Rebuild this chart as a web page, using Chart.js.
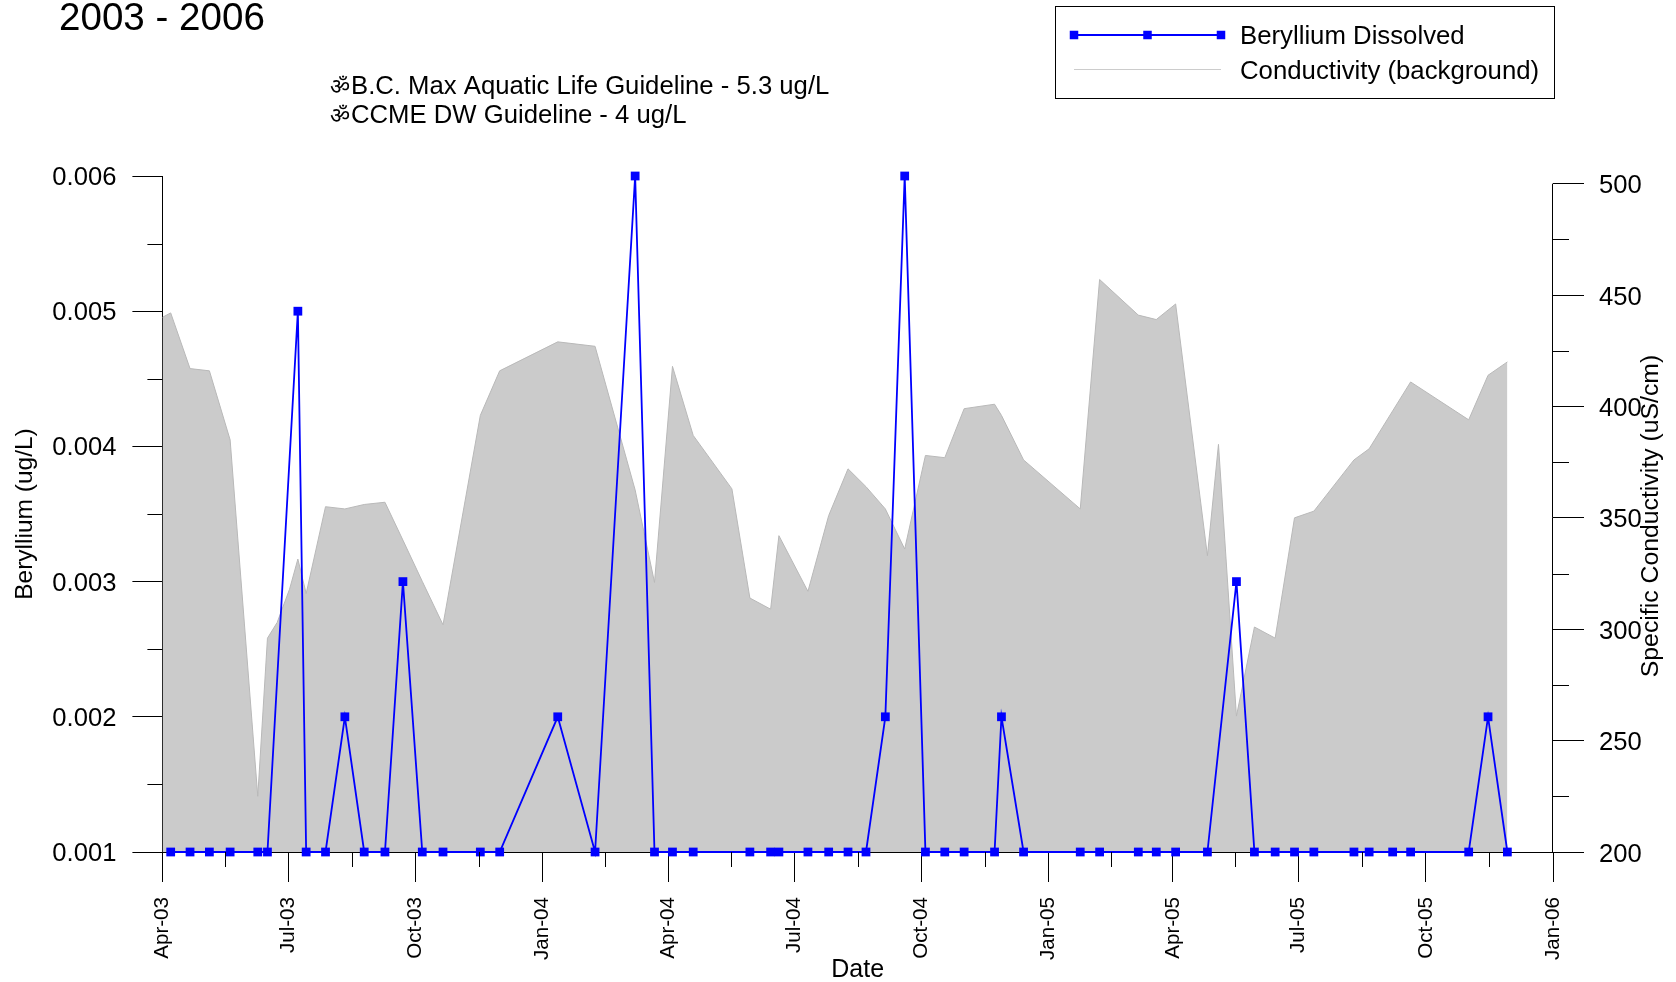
<!DOCTYPE html>
<html>
<head>
<meta charset="utf-8">
<style>html,body{margin:0;padding:0;background:#fff}canvas{display:block}</style>
<script src="https://cdn.jsdelivr.net/npm/chart.js@4/dist/chart.umd.min.js"></script>
</head>
<body>
<canvas id="c" width="1676" height="982"></canvas>
<script>
const berylliumDates = ["2003-04-07","2003-04-21","2003-05-05","2003-05-20","2003-06-09","2003-06-16","2003-07-08","2003-07-14","2003-07-28","2003-08-11","2003-08-25","2003-09-09","2003-09-22","2003-10-06","2003-10-21","2003-11-17","2003-12-01","2004-01-12","2004-02-08","2004-03-08","2004-03-22","2004-04-04","2004-04-19","2004-05-30","2004-06-14","2004-06-20","2004-07-11","2004-07-26","2004-08-09","2004-08-22","2004-09-05","2004-09-19","2004-10-04","2004-10-18","2004-11-01","2004-11-23","2004-11-28","2004-12-14","2005-01-24","2005-02-07","2005-03-07","2005-03-20","2005-04-03","2005-04-26","2005-05-17","2005-05-30","2005-06-14","2005-06-28","2005-07-12","2005-08-10","2005-08-21","2005-09-07","2005-09-20","2005-11-01","2005-11-15","2005-11-29"];
const berylliumValues = [0.001,0.001,0.001,0.001,0.001,0.001,0.005,0.001,0.001,0.002,0.001,0.001,0.003,0.001,0.001,0.001,0.001,0.002,0.001,0.006,0.001,0.001,0.001,0.001,0.001,0.001,0.001,0.001,0.001,0.001,0.002,0.006,0.001,0.001,0.001,0.001,0.002,0.001,0.001,0.001,0.001,0.001,0.001,0.001,0.003,0.001,0.001,0.001,0.001,0.001,0.001,0.001,0.001,0.001,0.002,0.001];
const conductivityDates = ["2003-04-01","2003-04-07","2003-04-21","2003-05-05","2003-05-20","2003-06-09","2003-06-16","2003-06-23","2003-07-02","2003-07-08","2003-07-14","2003-07-28","2003-08-11","2003-08-25","2003-09-09","2003-09-22","2003-10-06","2003-10-21","2003-11-17","2003-12-01","2004-01-12","2004-02-08","2004-03-08","2004-03-22","2004-04-04","2004-04-19","2004-05-17","2004-05-30","2004-06-14","2004-06-20","2004-07-11","2004-07-26","2004-08-09","2004-08-22","2004-09-05","2004-09-19","2004-10-04","2004-10-18","2004-11-01","2004-11-23","2004-11-28","2004-12-14","2005-01-24","2005-02-07","2005-03-07","2005-03-20","2005-04-03","2005-04-26","2005-05-04","2005-05-17","2005-05-30","2005-06-14","2005-06-28","2005-07-12","2005-08-10","2005-08-21","2005-09-07","2005-09-20","2005-11-01","2005-11-15","2005-11-29"];
const conductivityValues = [440,442,417,416,385,225,296,303,318,331.5,316,355,354,356,357,340,321.5,302,396,416,429,427,362.5,321,418,387,363,314,309,342,317,351,372,364,354,336,378,377,399,401,396,376,354,457,441,439,446,333,383,261,301,296,350,353,376,381,398,411,394,414,420];
const xMajorDates = ["2003-04-01","2003-07-01","2003-10-01","2004-01-01","2004-04-01","2004-07-01","2004-10-01","2005-01-01","2005-04-01","2005-07-01","2005-10-01","2006-01-01"];
const xMajorLabels = ["Apr-03","Jul-03","Oct-03","Jan-04","Apr-04","Jul-04","Oct-04","Jan-05","Apr-05","Jul-05","Oct-05","Jan-06"];
const xMinorDates = ["2003-05-16","2003-08-16","2003-11-16","2004-02-15","2004-05-16","2004-08-16","2004-11-16","2005-02-15","2005-05-16","2005-08-16","2005-11-16"];
const leftMajorTicks = [0.001,0.002,0.003,0.004,0.005,0.006];
const leftMinorTicks = [0.0015,0.0025,0.0035,0.0045,0.0055];
const rightMajorTicks = [200,250,300,350,400,450,500];
const rightMinorTicks = [225,275,325,375,425,475];
const titleText = "2003 - 2006";
const noteLines = ["B.C. Max Aquatic Life Guideline - 5.3 ug/L","CCME DW Guideline - 4 ug/L"];
const noteBullet = "\u0950";
const rightAxisTitle = "Specific Conductivity (uS/cm)";

const FONT = '"Liberation Sans", Arial, sans-serif';
const toX = s => Date.parse(s + "T00:00:00Z");
const pairs = (xs, ys) => xs.map((d, i) => ({x: toX(d), y: ys[i]}));
const use = ticks => scale => { scale.ticks = ticks.map(v => ({value: v})); };

const extras = {
  id: "extras",
  afterDatasetsDraw(chart) {
    const ctx = chart.ctx, s = chart.scales;
    ctx.save();
    ctx.strokeStyle = "#000";
    ctx.lineWidth = 1;
    // minor ticks, placed through the library's scales
    ctx.beginPath();
    xMinorDates.forEach(d => {
      const p = Math.round(s.x.getPixelForValue(toX(d))) + 0.5;
      ctx.moveTo(p, s.x.top); ctx.lineTo(p, s.x.top + 15);
    });
    leftMinorTicks.forEach(v => {
      const p = Math.round(s.y.getPixelForValue(v)) + 0.5;
      ctx.moveTo(s.y.right - 15, p); ctx.lineTo(s.y.right, p);
    });
    rightMinorTicks.forEach(v => {
      const p = Math.round(s.y2.getPixelForValue(v)) + 0.5;
      ctx.moveTo(s.y2.left, p); ctx.lineTo(s.y2.left + 16, p);
    });
    // right axis spine stops at the top tick
    const rx = Math.round(s.y2.left) - 0.5;
    ctx.moveTo(rx, s.y2.getPixelForValue(500));
    ctx.lineTo(rx, s.y2.getPixelForValue(200));
    ctx.stroke();

    // right axis title reads bottom-to-top
    ctx.fillStyle = "#000";
    ctx.save();
    ctx.translate(1651, 516);
    ctx.rotate(-Math.PI / 2);
    ctx.textAlign = "center";
    ctx.textBaseline = "middle";
    ctx.font = "24.8px " + FONT;
    ctx.fillText(rightAxisTitle, 0, 0);
    ctx.restore();

    // heading and notes
    ctx.textAlign = "left";
    ctx.textBaseline = "alphabetic";
    ctx.font = "38.6px " + FONT;
    ctx.fillText(titleText, 59, 30);
    noteLines.forEach((t, i) => {
      ctx.font = "22px " + FONT;
      ctx.fillText(noteBullet, 330, 94 + i * 29);
      ctx.font = "25.7px " + FONT;
      ctx.fillText(t, 351, 94 + i * 29);
    });

    // legend
    ctx.strokeStyle = "#000";
    ctx.lineWidth = 1;
    ctx.strokeRect(1055.5, 6.5, 499, 92);
    ctx.strokeStyle = "#0000ff";
    ctx.lineWidth = 2;
    ctx.beginPath(); ctx.moveTo(1074, 35); ctx.lineTo(1221, 35); ctx.stroke();
    ctx.fillStyle = "#0000ff";
    [1074, 1147.5, 1221].forEach(x => ctx.fillRect(x - 4.25, 30.75, 8.5, 8.5));
    ctx.strokeStyle = "#cccccc";
    ctx.lineWidth = 1;
    ctx.beginPath(); ctx.moveTo(1074, 69.5); ctx.lineTo(1221, 69.5); ctx.stroke();
    ctx.fillStyle = "#000";
    ctx.font = "25.75px " + FONT;
    ctx.fillText(chart.data.datasets[0].label, 1240, 44);
    ctx.fillText(chart.data.datasets[1].label, 1240, 78.5);
    ctx.restore();
  }
};

new Chart(document.getElementById("c"), {
  type: "line",
  plugins: [extras],
  data: {
    datasets: [
      {
        label: "Beryllium Dissolved",
        data: pairs(berylliumDates, berylliumValues),
        yAxisID: "y", xAxisID: "x",
        borderColor: "#0000ff", backgroundColor: "#0000ff",
        borderWidth: 1.8, tension: 0, fill: false, clip: false,
        pointStyle: "rect", pointRadius: 6.2, pointBorderWidth: 0, order: 1
      },
      {
        label: "Conductivity (background)",
        data: pairs(conductivityDates, conductivityValues),
        yAxisID: "y2", xAxisID: "x",
        borderColor: "#b9b9b9", backgroundColor: "#cbcbcb",
        borderWidth: 1, tension: 0, fill: "start", pointRadius: 0, order: 2
      }
    ]
  },
  options: {
    responsive: false,
    animation: false,
    parsing: false,
    normalized: true,
    layout: {padding: {top: 176, left: 0, right: 0, bottom: 0}},
    plugins: {legend: {display: false}, tooltip: {enabled: false}, title: {display: false}},
    scales: {
      x: {
        type: "linear",
        position: "bottom",
        min: toX(xMajorDates[0]),
        max: toX(xMajorDates[xMajorDates.length - 1]),
        afterBuildTicks: use(xMajorDates.map(toX)),
        afterFit: s => { s.height = 130; },
        border: {display: true, color: "#000", width: 1},
        grid: {drawOnChartArea: false, drawTicks: true, tickLength: 30, tickColor: "#000", tickWidth: 1},
        ticks: {
          autoSkip: false, maxRotation: 90, minRotation: 90, padding: 15,
          color: "#000", font: {family: FONT, size: 20.6},
          callback: (v, i) => xMajorLabels[i]
        },
        title: {display: true, text: "Date", color: "#000", font: {family: FONT, size: 25}, padding: {top: 0, bottom: -3}}
      },
      y: {
        type: "linear",
        position: "left",
        min: 0.001, max: 0.006,
        afterBuildTicks: use(leftMajorTicks),
        afterFit: s => { s.width = 162.4; },
        border: {display: true, color: "#000", width: 1},
        grid: {drawOnChartArea: false, drawTicks: true, tickLength: 30, tickColor: "#000", tickWidth: 1},
        ticks: {padding: 16, labelOffset: 2, color: "#000", font: {family: FONT, size: 25.6}, callback: v => v.toFixed(3)},
        title: {display: true, text: "Beryllium (ug/L)", color: "#000", font: {family: FONT, size: 24.5}, padding: {top: 11, bottom: 0}}
      },
      y2: {
        type: "linear",
        position: "right",
        min: 200, max: 503.45,
        afterBuildTicks: use(rightMajorTicks),
        afterFit: s => { s.width = 123; },
        border: {display: false},
        grid: {drawOnChartArea: false, drawTicks: true, tickLength: 31, tickColor: "#000", tickWidth: 1},
        ticks: {padding: 15, labelOffset: 2.5, color: "#000", font: {family: FONT, size: 25.6}, callback: v => String(v)},
        title: {display: false}
      }
    }
  }
});
</script>
</body>
</html>
